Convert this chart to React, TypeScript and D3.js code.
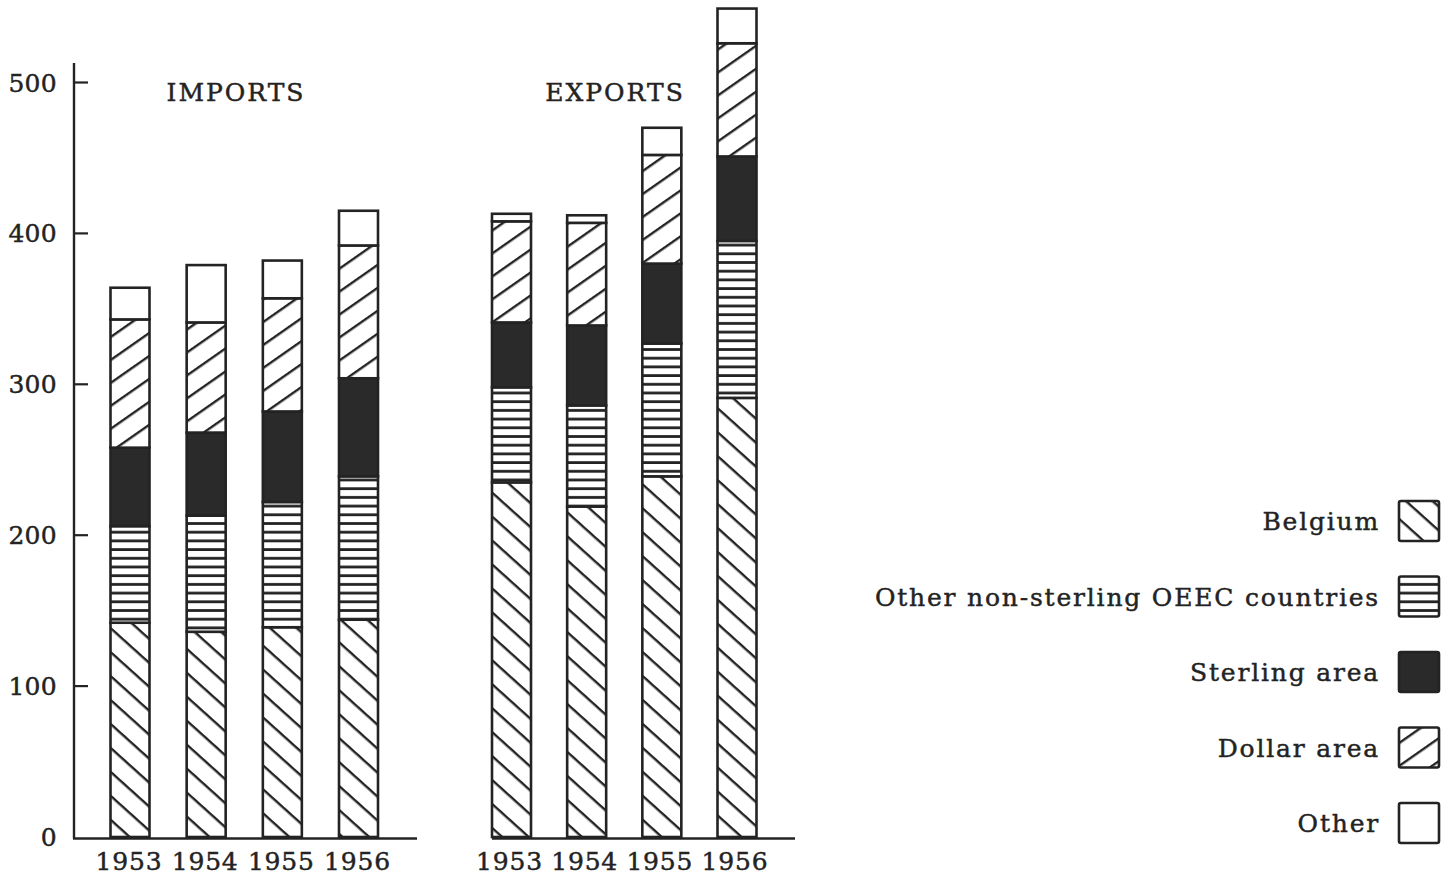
import React from 'react';
import * as d3 from 'd3';

const years = ['1953', '1954', '1955', '1956'];
const seriesKeys = ['belgium', 'oeec', 'sterling', 'dollar', 'other'];
const seriesNames = ['Belgium', 'Other non-sterling OEEC countries', 'Sterling area', 'Dollar area', 'Other'];

const importsBelgium = [142, 136, 139, 144];
const importsOEEC = [64, 77, 83, 95];
const importsSterling = [52, 55, 60, 65];
const importsDollar = [85, 73, 75, 88];
const importsOther = [21, 38, 25, 23];

const exportsBelgium = [235, 219, 239, 291];
const exportsOEEC = [63, 67, 88, 104];
const exportsSterling = [43, 53, 53, 56];
const exportsDollar = [67, 68, 72, 75];
const exportsOther = [5, 5, 18, 23];

const yTicks = [0, 100, 200, 300, 400, 500];

type Row = { year: string; [k: string]: any };

function makeRows(b: number[], o: number[], s: number[], d: number[], ot: number[]): Row[] {
  return years.map((y, i) => ({ year: y, belgium: b[i], oeec: o[i], sterling: s[i], dollar: d[i], other: ot[i] }));
}

const importRows = makeRows(importsBelgium, importsOEEC, importsSterling, importsDollar, importsOther);
const exportRows = makeRows(exportsBelgium, exportsOEEC, exportsSterling, exportsDollar, exportsOther);

const INK = '#232323';
const FONT = '"DejaVu Serif", serif';

const fills: Record<string, string> = {
  belgium: 'url(#hatchBelgium)',
  oeec: 'url(#hatchOEEC)',
  sterling: '#2a2a2a',
  dollar: 'url(#hatchDollar)',
  other: '#ffffff',
};

const y = d3.scaleLinear().domain([0, 500]).range([837, 82.5]);
const xImports = d3.scalePoint<string>().domain(years).range([130, 358.5]);
const xExports = d3.scalePoint<string>().domain(years).range([511.5, 737]);
const legendY = d3.scalePoint<string>().domain(seriesNames).range([521, 823]);
const BAR_W = 39;

const stack = d3.stack<Row>().keys(seriesKeys);

const textProps = (ls: number) => ({
  fontFamily: FONT,
  fontSize: 25,
  fill: INK,
  stroke: INK,
  strokeWidth: 0.45,
  letterSpacing: ls,
});

function Bars({ rows, x }: { rows: Row[]; x: d3.ScalePoint<string> }) {
  const layers = stack(rows);
  return (
    <g>
      {layers.map((layer) =>
        layer.map((d, i) => {
          const cx = x(d.data.year) as number;
          const y0 = y(d[0]);
          const y1 = y(d[1]);
          return (
            <rect
              key={layer.key + i}
              x={cx - BAR_W / 2}
              y={y1}
              width={BAR_W}
              height={Math.max(0, y0 - y1)}
              fill={fills[layer.key]}
              stroke={INK}
              strokeWidth={2.6}
            />
          );
        })
      )}
    </g>
  );
}

export default function App() {
  const baseY = y(0) + 1.5;
  return (
    <svg
      width={1451}
      height={879}
      viewBox="0 0 1451 879"
      style={{ position: 'absolute', left: 0, top: 0, background: '#fff' }}
    >
      <defs>
        <pattern id="hatchBelgium" patternUnits="userSpaceOnUse" width={20} height={17.8} patternTransform="rotate(42)">
          <rect width={20} height={17.8} fill="#fff" />
          <line x1={0} x2={20} y1={1.2} y2={1.2} stroke={INK} strokeWidth={2.4} />
        </pattern>
        <pattern id="hatchDollar" patternUnits="userSpaceOnUse" width={20} height={18.8} patternTransform="rotate(-35)">
          <rect width={20} height={18.8} fill="#fff" />
          <line x1={0} x2={20} y1={1.2} y2={1.2} stroke={INK} strokeWidth={2.4} />
        </pattern>
        <pattern id="hatchOEEC" patternUnits="userSpaceOnUse" width={20} height={8.7}>
          <rect width={20} height={8.7} fill="#fff" />
          <line x1={0} x2={20} y1={1.5} y2={1.5} stroke={INK} strokeWidth={2.8} />
        </pattern>
      </defs>

      {/* Y axis */}
      <line x1={74} x2={74} y1={63} y2={baseY} stroke={INK} strokeWidth={2.4} />
      {yTicks.map((t) => (
        <g key={t}>
          {t > 0 && <line x1={74} x2={88} y1={y(t)} y2={y(t)} stroke={INK} strokeWidth={2.2} />}
          <text x={57} y={y(t) + 9} textAnchor="end" {...textProps(0.3)}>
            {t}
          </text>
        </g>
      ))}

      {/* baselines */}
      <line x1={73} x2={417} y1={baseY} y2={baseY} stroke={INK} strokeWidth={2.6} />
      <line x1={(xExports('1953') as number) - BAR_W / 2} x2={795} y1={baseY} y2={baseY} stroke={INK} strokeWidth={2.6} />

      <Bars rows={importRows} x={xImports} />
      <Bars rows={exportRows} x={xExports} />

      {/* group titles */}
      <text x={236} y={101} textAnchor="middle" {...textProps(2)}>
        IMPORTS
      </text>
      <text x={615} y={101} textAnchor="middle" {...textProps(2)}>
        EXPORTS
      </text>

      {/* year labels */}
      {years.map((yr) => (
        <text key={'i' + yr} x={(xImports(yr) as number) - 1} y={870} textAnchor="middle" {...textProps(0.8)}>
          {yr}
        </text>
      ))}
      {years.map((yr) => (
        <text key={'e' + yr} x={(xExports(yr) as number) - 2} y={870} textAnchor="middle" {...textProps(0.8)}>
          {yr}
        </text>
      ))}

      {/* legend */}
      {seriesNames.map((name, i) => {
        const cy = legendY(name) as number;
        return (
          <g key={name}>
            <text x={1380} y={cy + 9} textAnchor="end" {...textProps(1.8)}>
              {name}
            </text>
            <rect
              x={1399}
              y={cy - 20}
              width={40}
              height={40}
              fill={fills[seriesKeys[i]]}
              stroke={INK}
              strokeWidth={2.6}
              rx={2}
            />
          </g>
        );
      })}
    </svg>
  );
}
